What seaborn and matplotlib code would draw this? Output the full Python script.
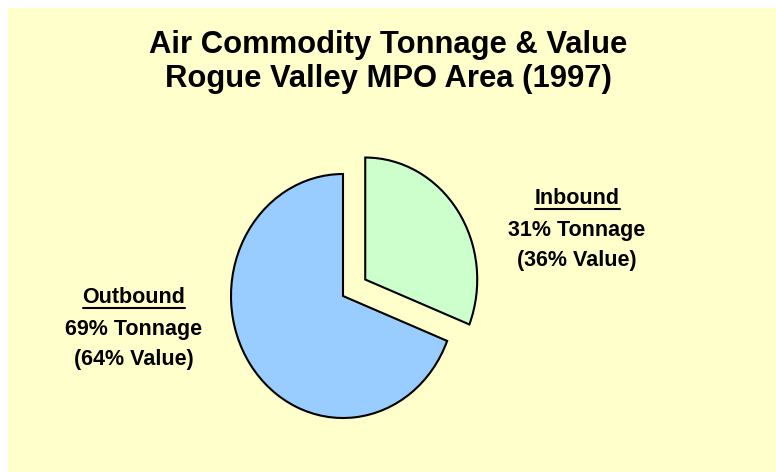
import matplotlib
matplotlib.use("Agg")
import matplotlib.pyplot as plt
import seaborn as sns
from matplotlib.patches import Rectangle
from matplotlib.lines import Line2D

# ---- data ----
categories = ["Inbound", "Outbound"]
tonnage_pct = [31, 69]
value_pct = [36, 64]
colors = ["#CCFFCC", "#99CCFF"]
title_lines = ["Air Commodity Tonnage & Value", "Rogue Valley MPO Area (1997)"]

sns.set_theme(style="white")
plt.rcParams["font.family"] = ["Liberation Sans", "DejaVu Sans"]
plt.rcParams["text.color"] = "black"

W, H = 776, 472
fig = plt.figure(figsize=(W / 100, H / 100), dpi=100)
fig.patch.set_facecolor("white")
bg = Rectangle((8 / W, 0), 1 - 8 / W, 1 - 8 / H, transform=fig.transFigure,
               facecolor="#FFFFCC", edgecolor="none", zorder=-10)
fig.patches.append(bg)

# pie axes: centre at px (343, 296), rx=112, ry=122
cx, cy, rx, ry = 343, 296, 112, 122
lim = 1.5
ax = fig.add_axes([(cx - lim * rx) / W, (H - cy - lim * ry) / H, 2 * lim * rx / W, 2 * lim * ry / H])
ax.patch.set_alpha(0)
wedges, _ = ax.pie(tonnage_pct, colors=colors, startangle=90, counterclock=False,
                   explode=[0.24, 0], wedgeprops=dict(edgecolor="black", linewidth=1.5))
ax.set_aspect("auto")
ax.set_xlim(-lim, lim)
ax.set_ylim(-lim, lim)
ax.axis("off")

fig.text(388 / W, 1 - 53 / H, title_lines[0], ha="center", va="baseline", fontsize=22.3, fontweight="bold")
fig.text(388 / W, 1 - 87 / H, title_lines[1], ha="center", va="baseline", fontsize=22.3, fontweight="bold")

label_pos = {"Inbound": (577, 204), "Outbound": (134, 303)}
heads = []
for cat, t, v in zip(categories, tonnage_pct, value_pct):
    x, y = label_pos[cat]
    h = fig.text(x / W, 1 - y / H, cat, ha="center", va="baseline", fontsize=15.5, fontweight="bold")
    heads.append((h, y))
    fig.text(x / W, 1 - (y + 32) / H, f"{t}% Tonnage", ha="center", va="baseline", fontsize=15.5, fontweight="bold")
    fig.text(x / W, 1 - (y + 62) / H, f"({v}% Value)", ha="center", va="baseline", fontsize=15.5, fontweight="bold")

fig.canvas.draw()
r = fig.canvas.get_renderer()
for h, y in heads:
    bb = h.get_window_extent(r)
    yline = H - (y + 5)
    fig.lines.append(Line2D([bb.x0 / W, bb.x1 / W], [yline / H, yline / H], transform=fig.transFigure,
                            color="black", linewidth=1.5))

fig.savefig("out.png", dpi=100, facecolor=fig.get_facecolor())
